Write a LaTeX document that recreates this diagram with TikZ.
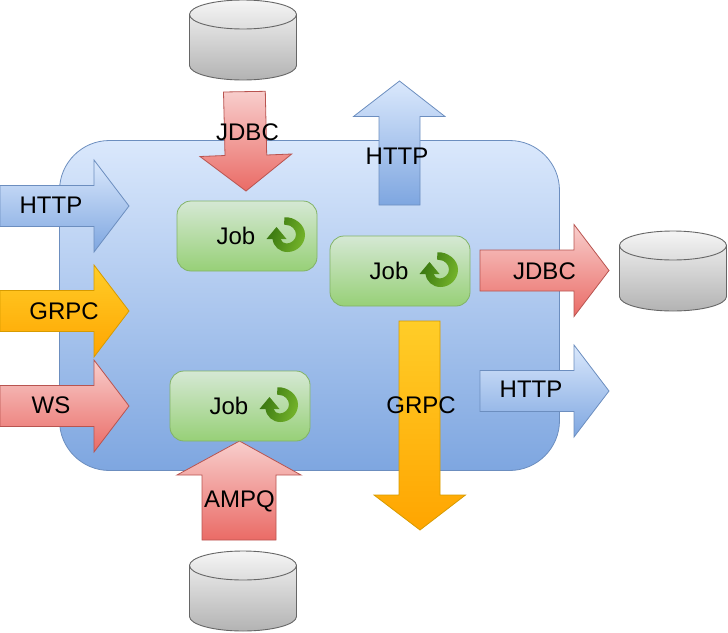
\documentclass[tikz,border=0pt]{standalone}
\usepackage{fontspec}
\setmainfont{Liberation Sans}
\definecolor{blT}{HTML}{DAE8FC}\definecolor{blB}{HTML}{7EA6E0}\definecolor{blD}{HTML}{6C8EBF}
\definecolor{rdT}{HTML}{F8CECC}\definecolor{rdB}{HTML}{EA6B66}\definecolor{rdD}{HTML}{B85450}
\definecolor{orT}{HTML}{FFCD28}\definecolor{orB}{HTML}{FFA500}\definecolor{orD}{HTML}{D79B00}
\definecolor{grT}{HTML}{D5E8D4}\definecolor{grB}{HTML}{97D077}\definecolor{grD}{HTML}{82B366}
\definecolor{cyT}{HTML}{F5F5F5}\definecolor{cyB}{HTML}{B3B3B3}\definecolor{cyD}{HTML}{666666}
\definecolor{icL}{HTML}{74B32A}\definecolor{icD}{HTML}{35730E}
\tikzset{
  blue arrow/.style={draw=blD,top color=blT,bottom color=blB,line width=.8pt},
  red arrow/.style={draw=rdD,top color=rdT,bottom color=rdB,line width=.8pt},
  orange arrow/.style={draw=orD,top color=orT,bottom color=orB,line width=.8pt},
  label/.style={font=\fontsize{24}{28}\selectfont,text=black,inner sep=0pt},
  jobbox/.style={draw=grD,top color=grT,bottom color=grB,line width=.8pt,rounded corners=14pt},
  cylbody/.style={draw=cyD,top color=cyT,bottom color=cyB,line width=.9pt},
  cyltop/.style={draw=cyD,line width=.9pt},
  cycle icon/.style={left color=icD,right color=icL,shading angle=70,draw=none},
}
% right-pointing arrow: style, x0, x1(head base), xtip, ycentre
\newcommand{\rarrow}[5]{\path[#1] (#2,#5-20.5) -- (#3,#5-20.5) -- (#3,#5-46) -- (#4,#5) -- (#3,#5+46) -- (#3,#5+20.5) -- (#2,#5+20.5) -- cycle;}
% cylinder: name, centre x, top y
\newcommand{\cyl}[3]{
  \path[cylbody] (#2-53.5,#3+14.5) -- (#2-53.5,#3+65.5) arc[start angle=180,end angle=360,x radius=53.5,y radius=-14.5] -- (#2+53.5,#3+14.5) arc[start angle=0,end angle=180,x radius=53.5,y radius=-14.5] -- cycle;
  \draw[cyltop] (#2-53.5,#3+14.5) arc[start angle=180,end angle=360,x radius=53.5,y radius=-14.5];
  \coordinate (#1) at (#2,#3+40);
}
% job: name, left x, top y, label centre x
\newcommand{\job}[4]{
  \path[jobbox] (#2,#3) rectangle ++(140,70);
  \node[label] (#1) at (#4,#3+34.5) {Job};
  \begin{scope}[shift={(#2+110.5,#3+33.5)}]
    \path[cycle icon] (-3,-17.2) .. controls (7,-18) and (17.5,-9.7) .. (17.5,0)
      .. controls (17.5,9.7) and (9.7,17.5) .. (0,17.5)
      .. controls (-8,17.5) and (-14,12) .. (-15,4.5)
      -- (-21,4.5) -- (-11,-7.5) -- (-1,4.5) -- (-7,4.5)
      .. controls (-6,7.5) and (-3.5,9) .. (-1,9)
      .. controls (4,9) and (8.5,5) .. (8.5,0)
      .. controls (8.5,-5) and (4,-9.5) .. (-1,-9.5)
      .. controls (-2,-9.5) and (-3,-9.5) .. (-3.5,-10) -- cycle;
  \end{scope}
}
\begin{document}
\begin{tikzpicture}[x=1pt,y=-1pt]
\useasboundingbox (0,0) rectangle (728,632);
\path[draw=blD,top color=blT,bottom color=blB,line width=.8pt,rounded corners=50pt] (59.5,140.5) rectangle (559.5,470.5);
\path[red arrow] (223.5,92) -- (265.3,91.3) -- (266.7,155) -- (291.7,154) -- (246,191) -- (200,156.5) -- (225,155.5) -- cycle;
\path[blue arrow] (379,205) -- (379,116.5) -- (353.5,116.5) -- (399.5,81) -- (445,116.5) -- (420,116.5) -- (420,205) -- cycle;
\rarrow{blue arrow}{0}{94}{129}{206}
\rarrow{orange arrow}{0}{94}{129}{311}
\rarrow{red arrow}{0}{94}{129}{406}
\rarrow{red arrow}{480}{574}{609}{270.5}
\rarrow{blue arrow}{480}{574}{609}{391}
\path[orange arrow] (399,321) -- (440,321) -- (440,495) -- (465.5,495) -- (420,530) -- (374,495) -- (399,495) -- cycle;
\path[red arrow] (202,540) -- (202,475) -- (177,475) -- (239.5,441) -- (301,475) -- (276,475) -- (276,540) -- cycle;
\job{job1}{177}{201}{236}
\job{job2}{330}{236}{389}
\job{job3}{170}{371}{229}
\cyl{db1}{243}{0}
\cyl{db2}{673}{231}
\cyl{db3}{243}{551}
\node[label] (l1) at (247.5,132) {JDBC};
\node[label] (l2) at (397,156) {HTTP};
\node[label] (l3) at (51,205) {HTTP};
\node[label] (l4) at (64,311) {GRPC};
\node[label] (l5) at (51,405) {WS};
\node[label] (l6) at (544.5,271) {JDBC};
\node[label] (l7) at (531,389) {HTTP};
\node[label] (l8) at (421,405) {GRPC};
\node[label] (l9) at (239.5,501) {AMPQ};
\end{tikzpicture}
\end{document}
